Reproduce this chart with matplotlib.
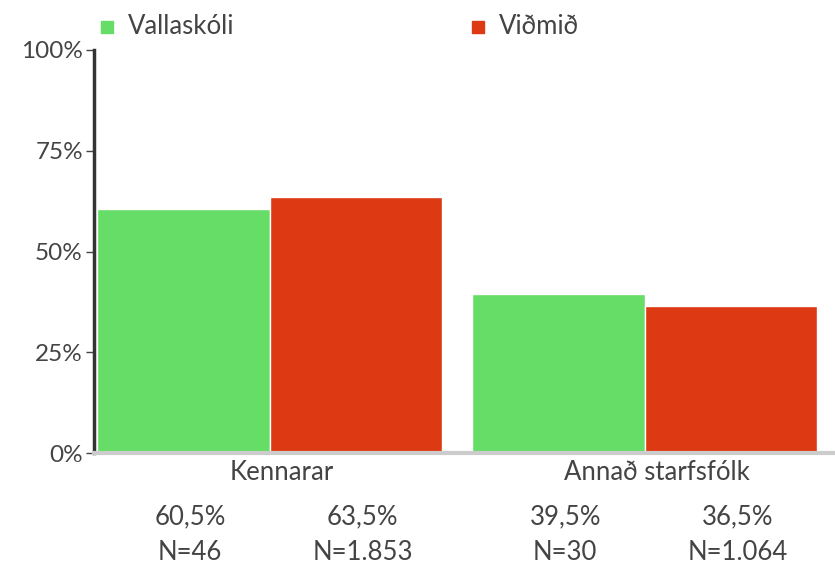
import numpy as np
import matplotlib.pyplot as plt
from matplotlib.lines import Line2D

plt.rcParams["font.family"] = ["Lato", "DejaVu Sans"]

categories = ["Kennarar", "Annað starfsfólk"]
series = ["Vallaskóli", "Viðmið"]
school = [60.5, 39.5]
benchmark = [63.5, 36.5]
school_n = ["N=46", "N=30"]
bench_n = ["N=1.853", "N=1.064"]
yticks = [0, 25, 50, 75, 100]

green = "#66DD66"
red = "#DD3913"
txt = "#444444"
fs = 18.5

fig = plt.figure(figsize=(8.35, 5.65), dpi=100)
ax = fig.add_axes([94 / 835, 112 / 565, 1 - 94 / 835, 403 / 565])

x = np.arange(len(categories))
w = 0.46
b1 = ax.bar(x - w / 2, school, w, color=green, edgecolor="white", linewidth=1)
b2 = ax.bar(x + w / 2, benchmark, w, color=red, edgecolor="white", linewidth=1)

ax.set_xlim(-0.468, 1.508)
ax.set_ylim(0, 100)
ax.set_yticks(yticks)
ax.set_yticklabels([f"{t}%" for t in yticks], fontsize=17.5, color=txt)
ax.tick_params(axis="y", length=6, width=1, color=txt, pad=2)
ax.set_xticks([])

for s in ["top", "right"]:
    ax.spines[s].set_visible(False)
ax.spines["left"].set_color("#333333")
ax.spines["left"].set_linewidth(2.5)
ax.spines["bottom"].set_color("#cccccc")
ax.spines["bottom"].set_linewidth(3)

trans = ax.get_xaxis_transform()
for i, cat in enumerate(categories):
    ax.annotate(cat, (x[i], 0), xycoords=trans, xytext=(12, -19),
                textcoords="offset pixels", ha="center", va="center",
                fontsize=fs, color=txt)
for bars, vals, ns in [(b1, school, school_n), (b2, benchmark, bench_n)]:
    for bar, v, n in zip(bars, vals, ns):
        cx = bar.get_x() + bar.get_width() / 2
        ax.annotate(f"{v:.1f}%".replace(".", ","), (cx, 0), xycoords=trans,
                    xytext=(7, -64), textcoords="offset pixels",
                    ha="center", va="center", fontsize=fs, color=txt)
        ax.annotate(n, (cx, 0), xycoords=trans, xytext=(7, -100),
                    textcoords="offset pixels", ha="center", va="center",
                    fontsize=fs, color=txt)

# legend
for (lx, label, col) in [(107, series[0], green), (478, series[1], red)]:
    fig.lines.append(Line2D([lx / 835], [1 - 27 / 565], marker="s", markersize=8,
                            color=col, linestyle="none", transform=fig.transFigure))
    fig.text((lx + 21) / 835, 1 - 26 / 565, label, fontsize=fs, color=txt,
             ha="left", va="center")

fig.savefig("out.png", dpi=100)
